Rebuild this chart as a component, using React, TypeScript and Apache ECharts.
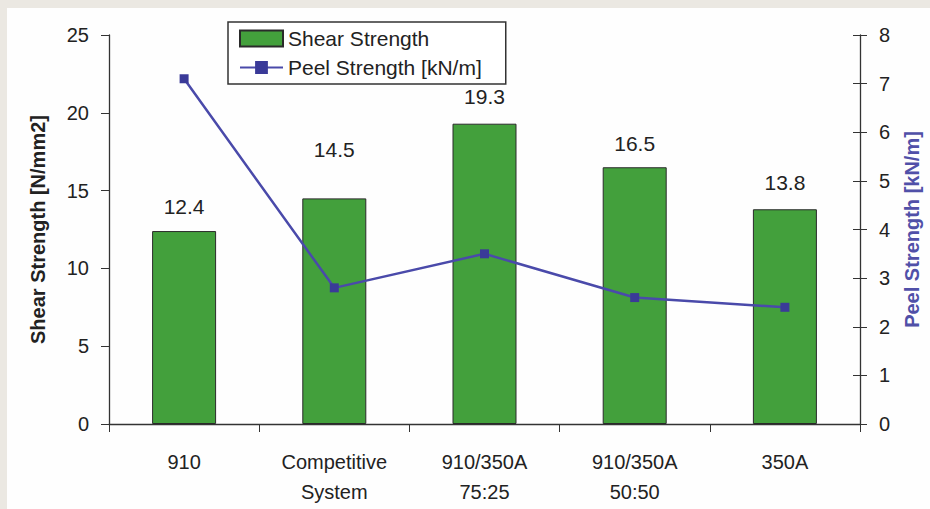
import React, { useEffect, useRef } from "react";
import * as echarts from "echarts";

const categories = ["910", "Competitive\nSystem", "910/350A\n75:25", "910/350A\n50:50", "350A"];
const shearStrength = [12.4, 14.5, 19.3, 16.5, 13.8];
const peelStrength = [7.1, 2.8, 3.5, 2.6, 2.4];
const leftTicks = [0, 5, 10, 15, 20, 25];
const rightTicks = [0, 1, 2, 3, 4, 5, 6, 7, 8];
const labelDistances = [14, 38, 17, 13, 16];

const FONT = "Liberation Sans, Arial, sans-serif";

export default function App() {
  const ref = useRef<HTMLDivElement>(null);
  useEffect(() => {
    if (!ref.current) return;
    const chart = echarts.init(ref.current, undefined, { renderer: "svg" });
    chart.setOption({
      animation: false,
      backgroundColor: "#ebe8e2",
      graphic: [
        { type: "rect", left: 7, top: 8, shape: { width: 923, height: 501 }, style: { fill: "#fefefe" }, z: -10 },
      ],
      textStyle: { fontFamily: FONT },
      legend: {
        left: 228,
        top: 22,
        orient: "vertical",
        padding: [6, 24, 6, 11],
        itemGap: 8,
        itemWidth: 43,
        itemHeight: 16,
        borderColor: "#333",
        borderWidth: 1.5,
        backgroundColor: "#fff",
        textStyle: { fontSize: 21, color: "#222", fontFamily: FONT },
        data: [
          { name: "Shear Strength", icon: "rect" },
          { name: "Peel Strength [kN/m]" },
        ],
      },
      grid: { left: 109, right: 68, top: 35, bottom: 85 },
      xAxis: {
        type: "category",
        data: categories,
        axisLine: { lineStyle: { color: "#333", width: 1.3 } },
        axisTick: { show: true, alignWithLabel: false, length: 8, lineStyle: { color: "#333" } },
        axisLabel: { fontSize: 20, color: "#222", lineHeight: 30, margin: 23, fontFamily: FONT },
      },
      yAxis: [
        {
          type: "value",
          min: 0,
          max: 25,
          interval: 5,
          position: "left",
          name: "Shear Strength [N/mm2]",
          nameLocation: "middle",
          nameGap: 61,
          nameTextStyle: { fontSize: 20, fontWeight: "bold", color: "#222", fontFamily: FONT, padding: [0, 0, 0, 0] },
          axisLine: { show: true, lineStyle: { color: "#333", width: 1.3 } },
          axisTick: { show: true, length: 8, lineStyle: { color: "#333" } },
          axisLabel: {
            fontSize: 20,
            color: "#222",
            margin: 20,
            fontFamily: FONT,
            formatter: (v: number) => (leftTicks.includes(v) ? String(v) : ""),
          },
          splitLine: { show: false },
        },
        {
          type: "value",
          min: 0,
          max: 8,
          interval: 1,
          position: "right",
          name: "Peel Strength [kN/m]",
          nameLocation: "middle",
          nameGap: 42,
          nameRotate: 90,
          nameTextStyle: { fontSize: 20, fontWeight: "bold", color: "#5050a8", fontFamily: FONT },
          axisLine: { show: true, lineStyle: { color: "#333", width: 1.3 } },
          axisTick: { show: true, length: 7, lineStyle: { color: "#333" } },
          axisLabel: {
            fontSize: 20,
            color: "#222",
            margin: 19,
            fontFamily: FONT,
            formatter: (v: number) => (rightTicks.includes(v) ? String(v) : ""),
          },
          splitLine: { show: false },
        },
        {
          type: "value",
          min: 0,
          max: 8,
          interval: 1,
          position: "right",
          axisLine: { show: false },
          axisTick: { show: true, inside: true, length: 7, lineStyle: { color: "#333" } },
          axisLabel: { show: false },
          splitLine: { show: false },
        },
      ],
      series: [
        {
          name: "Shear Strength",
          type: "bar",
          yAxisIndex: 0,
          barWidth: 64,
          itemStyle: { color: "#43a03c", borderColor: "#2a2a2a", borderWidth: 1 },
          data: shearStrength.map((v, i) => ({
            value: v,
            label: { distance: labelDistances[i] },
          })),
          label: {
            show: true,
            position: "top",
            fontSize: 21,
            color: "#222",
            fontFamily: FONT,
            formatter: (p: any) => Number(p.value).toFixed(1),
          },
        },
        {
          name: "Peel Strength [kN/m]",
          type: "line",
          yAxisIndex: 1,
          data: peelStrength,
          symbol: "rect",
          symbolSize: 9,
          lineStyle: { color: "#4a4aaa", width: 2.5 },
          itemStyle: { color: "#3a3a98" },
          z: 5,
        },
      ],
    });
    return () => chart.dispose();
  }, []);
  return <div ref={ref} style={{ position: "fixed", left: 0, top: 0, width: 930, height: 509 }} />;
}
